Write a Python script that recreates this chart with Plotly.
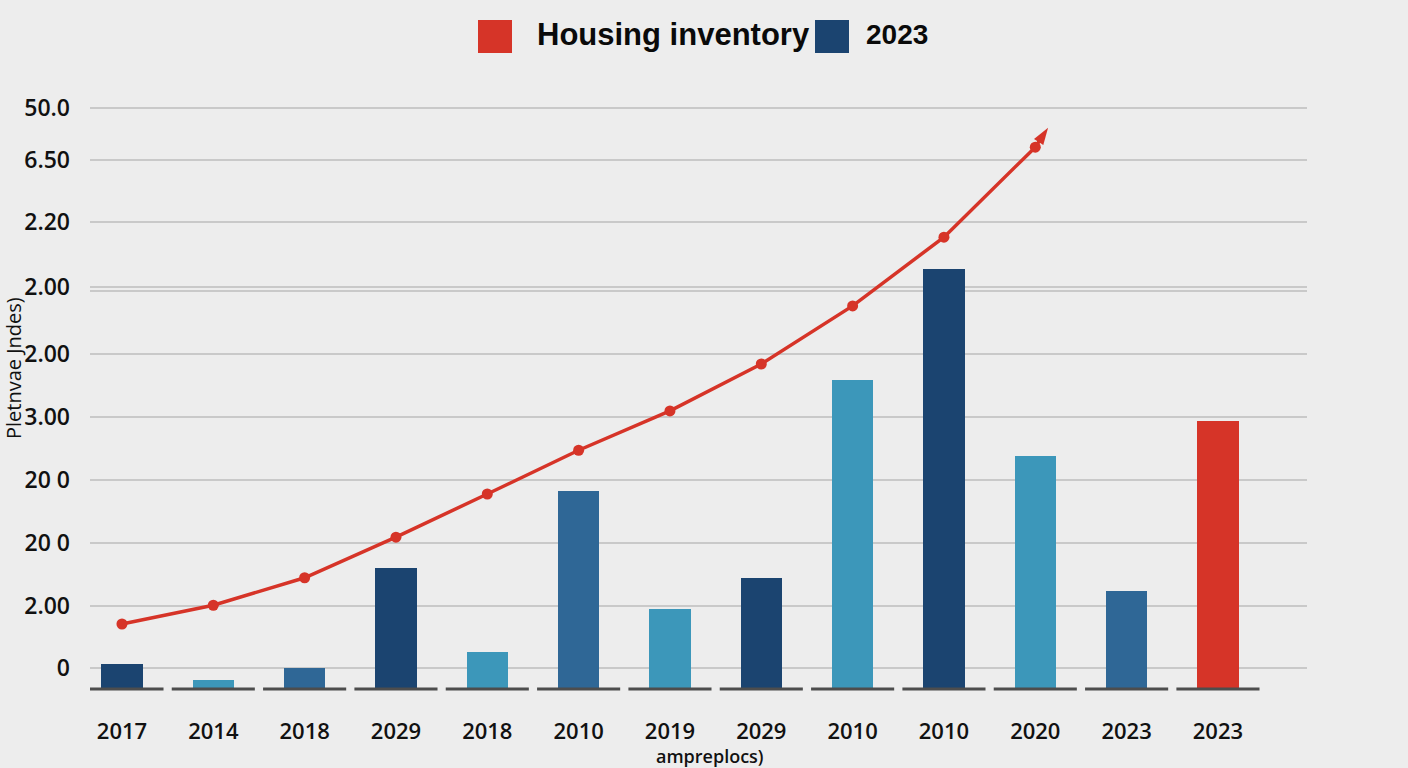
import plotly.graph_objects as go

# ---------------- data ----------------
categories = ["2017", "2014", "2018", "2029", "2018", "2010", "2019",
              "2029", "2010", "2010", "2020", "2023", "2023"]
bar_values = [0.40, 0.14, 0.34, 1.94, 0.59, 3.17, 1.28, 1.78, 4.94, 6.72, 3.73, 1.57, 4.29]
line_values = [1.04, 1.34, 1.78, 2.43, 3.12, 3.82, 4.45, 5.20, 6.13, 7.23, 8.67]
arrow_tip_x = 10.14
arrow_tip_y = 8.98
y_tick_vals = [0.336, 1.328, 2.336, 3.344, 4.352, 5.36, 6.368, 6.432, 7.472, 8.464, 9.296]
y_tick_text = ["0", "2.00", "20 0", "20 0", "3.00", "2.00", "", "2.00", "2.20", "6.50", "50.0"]
legend_labels = ["Housing inventory", "2023"]
x_title = "ampreplocs)"
y_title = "Pletnvae Jndes)"

# ---------------- styles ----------------
NAVY = "#1b4470"
MID = "#2f6796"
LIGHT = "#3c97ba"
RED = "#d63428"
bar_colors = [NAVY, LIGHT, MID, NAVY, LIGHT, MID, LIGHT, NAVY, LIGHT, NAVY, LIGHT, MID, RED]

W, H = 1408, 768
L, R, T, B = 90, 101, 100, 73
PW, PH = W - L - R, H - T - B


def px_x(p):
    return (p - L) / PW


def px_y(p):
    return (H - B - p) / PH


x_idx = list(range(len(categories)))

fig = go.Figure()

fig.add_trace(go.Bar(
    x=x_idx, y=bar_values, width=0.45,
    marker=dict(color=bar_colors, line=dict(width=0)),
    showlegend=False, hoverinfo="skip",
))

# baseline segments under each category
seg_x, seg_y = [], []
for i in x_idx:
    seg_x += [i - 0.455, i + 0.455, None]
    seg_y += [0, 0, None]
fig.add_trace(go.Scatter(
    x=seg_x, y=seg_y, mode="lines",
    line=dict(color="#4d4d4d", width=3),
    showlegend=False, hoverinfo="skip",
))

line_x = list(range(len(line_values)))
# arrow segment from the last point to the tip
fig.add_trace(go.Scatter(
    x=[line_x[-1], arrow_tip_x], y=[line_values[-1], arrow_tip_y],
    mode="lines+markers",
    line=dict(color=RED, width=3.5),
    marker=dict(color=RED, symbol="arrow", size=[0, 18], angleref="previous",
                opacity=1, line=dict(width=0)),
    showlegend=False, hoverinfo="skip",
))
fig.add_trace(go.Scatter(
    x=line_x, y=line_values, mode="lines+markers",
    line=dict(color=RED, width=3.5),
    marker=dict(color=RED, symbol="circle", size=11, opacity=1, line=dict(width=0)),
    showlegend=False, hoverinfo="skip",
))

# legend (drawn as shapes + text)
shapes = [
    dict(type="rect", xref="paper", yref="paper",
         x0=px_x(478), x1=px_x(512), y0=px_y(53), y1=px_y(20),
         fillcolor=RED, line=dict(width=0)),
    dict(type="rect", xref="paper", yref="paper",
         x0=px_x(815), x1=px_x(849), y0=px_y(53), y1=px_y(20),
         fillcolor=NAVY, line=dict(width=0)),
]
annotations = [
    dict(text=legend_labels[0], xref="paper", yref="paper",
         x=px_x(535), y=px_y(35), xanchor="left", yanchor="middle",
         showarrow=False,
         font=dict(family="Liberation Sans", size=31, color="#0a0a0a", weight="bold")),
    dict(text=legend_labels[1], xref="paper", yref="paper",
         x=px_x(864), y=px_y(35), xanchor="left", yanchor="middle",
         showarrow=False,
         font=dict(family="Liberation Sans", size=28, color="#0a0a0a", weight="bold")),
    dict(text=x_title, xref="paper", yref="paper",
         x=px_x(710), y=px_y(756), xanchor="center", yanchor="middle",
         showarrow=False,
         font=dict(family="Open Sans", size=18, color="#111111", weight=600)),
    dict(text=y_title, xref="paper", yref="paper",
         x=px_x(13), y=px_y(368), xanchor="center", yanchor="middle",
         textangle=-90, showarrow=False, borderpad=0,
         font=dict(family="Open Sans", size=20, color="#111111", weight=500)),
]

fig.update_layout(
    width=W, height=H,
    margin=dict(l=L, r=R, t=T, b=B, pad=0),
    paper_bgcolor="#ededed", plot_bgcolor="#ededed",
    shapes=shapes, annotations=annotations,
    bargap=0, hovermode=False,
    xaxis=dict(
        range=[-0.35, 12.975], tickmode="array", tickvals=x_idx, ticktext=categories,
        showgrid=False, zeroline=False, showline=False, ticks="",
        ticklabelstandoff=21,
        tickfont=dict(family="Open Sans", size=22, color="#111111", weight=600),
    ),
    yaxis=dict(
        range=[-0.096, 9.424], tickmode="array", tickvals=y_tick_vals, ticktext=y_tick_text,
        showgrid=True, gridcolor="#c9c9c9", gridwidth=1.5,
        zeroline=False, showline=False, ticks="",
        ticklabelstandoff=19,
        tickfont=dict(family="Open Sans", size=23, color="#111111", weight=600),
    ),
)

fig.write_html(
    "out.html",
    config={"displayModeBar": False},
    post_script="document.body.style.margin='0';document.body.style.overflow='hidden';"
                "document.body.style.background='#ededed';",
)
